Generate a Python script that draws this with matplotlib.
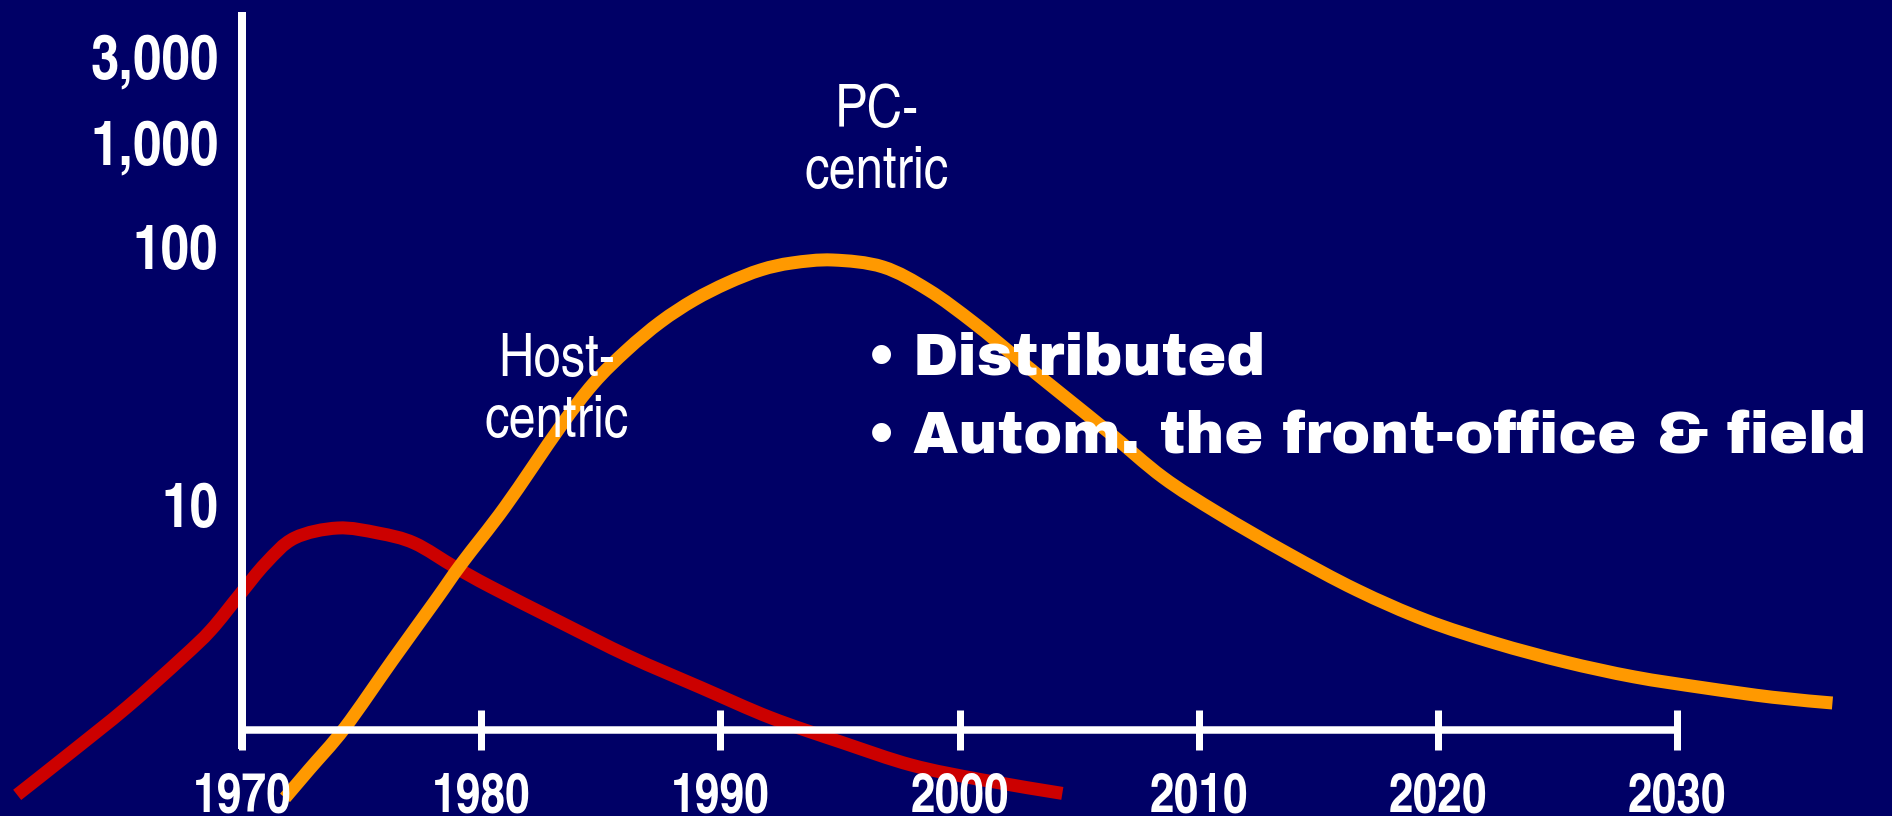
import numpy as np
import matplotlib
matplotlib.use("Agg")
import matplotlib.pyplot as plt
from matplotlib.path import Path
from matplotlib.patches import PathPatch

# ---------------- data ----------------
years_host = [1960.6, 1962.8, 1965.2, 1967.5, 1968.7, 1969.9, 1971.0, 1972.2, 1974.0,
              1975.7, 1977.2, 1978.9, 1980.4, 1983.3, 1986.2, 1989.2, 1992.1, 1995.1,
              1998.0, 2000.9, 2004.3]
host_centric = [0.76, 1.10, 1.66, 2.57, 3.29, 4.50, 5.97, 7.46, 8.15,
                7.79, 7.13, 5.76, 4.83, 3.53, 2.60, 1.97, 1.51, 1.21,
                0.99, 0.87, 0.77]

years_pc = [1971.8, 1972.8, 1974.3, 1976.3, 1978.1, 1979.2, 1981.0, 1983.3, 1984.7,
            1986.1, 1987.5, 1988.9, 1990.3, 1991.7, 1993.0, 1994.7, 1996.8, 1998.7,
            2000.6, 2002.5, 2004.4, 2006.3, 2008.5, 2010.8, 2013.7, 2016.6, 2019.5,
            2022.4, 2025.3, 2028.2, 2031.1, 2034.0, 2036.5]
pc_centric = [0.74, 0.95, 1.38, 2.52, 4.29, 5.97, 9.84, 20.0, 29.5,
              39.7, 50.9, 61.9, 72.0, 80.9, 86.0, 88.3, 83.0, 67.6,
              50.5, 36.3, 26.2, 18.9, 12.8, 9.32, 6.52, 4.70, 3.59,
              2.93, 2.48, 2.17, 1.97, 1.81, 1.72]

x_ticks = [1970, 1980, 1990, 2000, 2010, 2020, 2030]
x_tick_labels = ["1970", "1980", "1990", "2000", "2010", "2020", "2030"]
y_ticks = [10, 100, 1000, 3000]
y_tick_labels = ["10", "100", "1,000", "3,000"]

label_host = "Host-\ncentric"
label_pc = "PC-\ncentric"
bullets = ["Distributed", "Autom. the front-office & field"]

# ---------------- style ----------------
NAVY = "#000066"
RED = "#CC0000"
ORANGE = "#FF9900"
WHITE = "white"

NARROW = ["TeX Gyre Heros Cn", "Liberation Sans", "DejaVu Sans"]
HEAVY = ["Archivo Black", "DejaVu Sans"]

W, H = 1892, 816
px = 0.72  # points per pixel at dpi 100

# piecewise-logarithmic scale of the illustrative y axis
LOGS = np.log10(np.array(y_ticks, float))
POS = np.array([225.0, 484.0, 588.0, 674.0])


def _pl(x, xp, fp):
    x = np.asarray(x, float)
    y = np.interp(x, xp, fp)
    lo_slope = (fp[1] - fp[0]) / (xp[1] - xp[0])
    hi_slope = (fp[-1] - fp[-2]) / (xp[-1] - xp[-2])
    y = np.where(x < xp[0], fp[0] + (x - xp[0]) * lo_slope, y)
    y = np.where(x > xp[-1], fp[-1] + (x - xp[-1]) * hi_slope, y)
    return y


def fwd(v):
    v = np.asarray(v, float)
    return _pl(np.log10(np.maximum(v, 1e-12)), LOGS, POS)


def inv(u):
    return 10 ** _pl(u, POS, LOGS)


def smooth_path(xs, ys):
    """Catmull-Rom curve through the data points, as cubic Bezier segments."""
    pts = np.column_stack([np.asarray(xs, float), fwd(ys)])
    verts = [pts[0]]
    codes = [Path.MOVETO]
    n = len(pts)
    for i in range(n - 1):
        p0 = pts[i - 1] if i > 0 else pts[i]
        p1, p2 = pts[i], pts[i + 1]
        p3 = pts[i + 2] if i + 2 < n else pts[i + 1]
        verts += [p1 + (p2 - p0) / 6.0, p2 - (p3 - p1) / 6.0, p2]
        codes += [Path.CURVE4] * 3
    v = np.array(verts)
    v[:, 1] = inv(v[:, 1])
    return Path(v, codes)


fig = plt.figure(figsize=(W / 100, H / 100), dpi=100, facecolor=NAVY)
ax = fig.add_axes([0, 0, 1, 1])
ax.set_facecolor(NAVY)
ax.set_yscale("function", functions=(fwd, inv))

ppy = (1677 - 242) / 60.0
ax.set_xlim(1970 - 242 / ppy, 1970 + (W - 242) / ppy)
ax.set_ylim(float(inv(-(H - 730))), float(inv(730)))
ax.set_axisbelow(False)

for xs, ys, col in [(years_host, host_centric, RED), (years_pc, pc_centric, ORANGE)]:
    ax.add_patch(PathPatch(smooth_path(xs, ys), facecolor="none", edgecolor=col,
                           lw=13 * px, capstyle="butt", joinstyle="round", zorder=2))

for s in ("top", "right"):
    ax.spines[s].set_visible(False)
ax.spines["left"].set_position(("data", 1970))
ax.spines["left"].set_bounds(float(inv(-19)), float(inv(718)))
ax.spines["left"].set_linewidth(8 * px)
ax.spines["left"].set_color(WHITE)
ax.spines["left"].set_capstyle("butt")
ax.spines["bottom"].set_position(("data", float(inv(0))))
ax.spines["bottom"].set_bounds(1970, 2030)
ax.spines["bottom"].set_linewidth(7.5 * px)
ax.spines["bottom"].set_color(WHITE)
ax.spines["bottom"].set_capstyle("butt")

ax.set_xticks(x_ticks)
ax.set_xticklabels(x_tick_labels, family=NARROW,
                   fontweight="bold", fontsize=39, color=WHITE)
ax.tick_params(axis="x", direction="inout", length=40 * px, width=7 * px,
               color=WHITE, pad=16.5)
ax.set_yticks(y_ticks)
ax.set_yticklabels(y_tick_labels, family=NARROW,
                   fontweight="bold", fontsize=45, color=WHITE)
ax.tick_params(axis="y", length=0, pad=17)
ax.minorticks_off()

ax.text(557 / W, 1 - 437 / H, label_host, transform=ax.transAxes, ha="center",
        va="baseline", multialignment="center", family=NARROW,
        fontsize=43, color=WHITE, linespacing=1.13, zorder=5)
ax.text(877 / W, 1 - 188 / H, label_pc, transform=ax.transAxes, ha="center",
        va="baseline", multialignment="center", family=NARROW,
        fontsize=43, color=WHITE, linespacing=1.13, zorder=5)

for txt, base in zip(bullets, [375, 453]):
    ax.text(881 / W, 1 - base / H, "\u2022", transform=ax.transAxes, ha="center",
            va="baseline", family=HEAVY, fontsize=42, color=WHITE, zorder=5)
    ax.text(913 / W, 1 - base / H, txt, transform=ax.transAxes, ha="left",
            va="baseline", family=HEAVY, fontsize=42, color=WHITE, zorder=5)

fig.savefig("out.png", dpi=100, facecolor=NAVY)
